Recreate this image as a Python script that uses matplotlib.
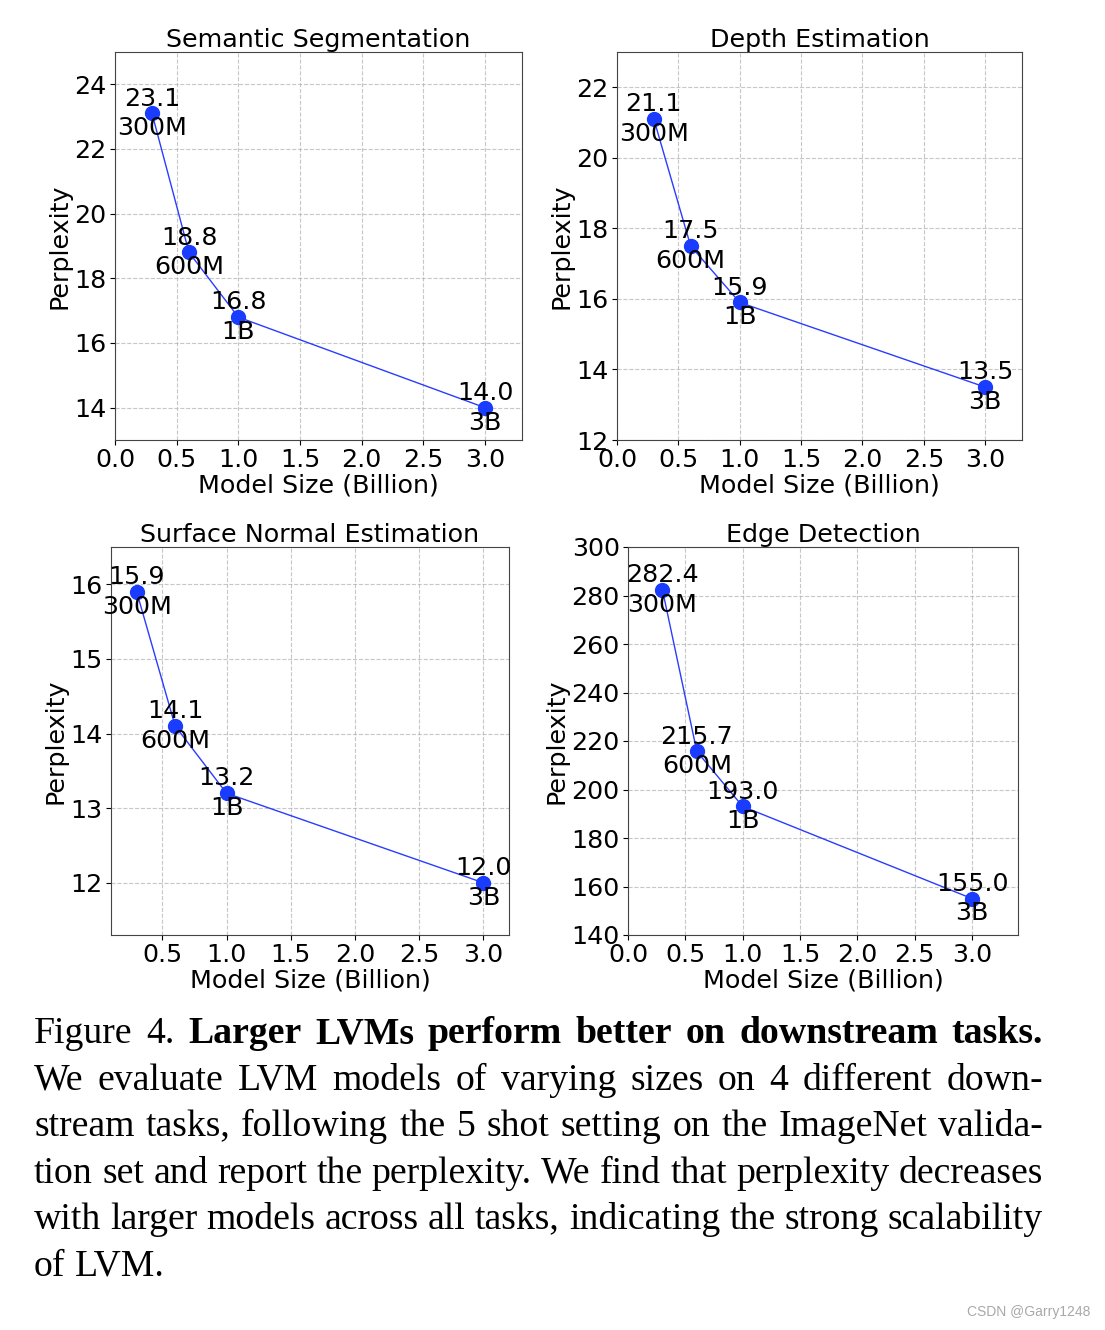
import matplotlib
matplotlib.use("Agg")
import matplotlib.pyplot as plt

# model sizes (billion) and their names
sizes = [0.3, 0.6, 1.0, 3.0]
size_labels = ['300M', '600M', '1B', '3B']

# perplexity per task
seg = [23.1, 18.8, 16.8, 14.0]
depth = [21.1, 17.5, 15.9, 13.5]
normal = [15.9, 14.1, 13.2, 12.0]
edge = [282.4, 215.7, 193.0, 155.0]

titles = ['Semantic Segmentation', 'Depth Estimation', 'Surface Normal Estimation', 'Edge Detection']

caption_lines = [
    [("Figure 4.", "normal"), ("Larger LVMs perform better on downstream tasks.", "bold")],
    [("We evaluate LVM models of varying sizes on 4 different down-", "normal")],
    [("stream tasks, following the 5 shot setting on the ImageNet valida-", "normal")],
    [("tion set and report the perplexity. We find that perplexity decreases", "normal")],
    [("with larger models across all tasks, indicating the strong scalability", "normal")],
    [("of LVM.", "normal")],
]

W, H = 1105, 1330
fig = plt.figure(figsize=(W / 100, H / 100), dpi=100)

# axes boxes in pixels: left, top, right, bottom
boxes = [(115, 52, 522, 440), (617, 52, 1022, 440),
         (111, 547, 509, 935), (628, 547, 1018, 935)]
xlims = [(0, 3.3), (0, 3.3), (0.1, 3.2), (0, 3.4)]
ylims = [(13, 25), (12, 23), (11.3, 16.5), (140, 300)]
yticks = [range(14, 25, 2), range(12, 23, 2), range(12, 17), range(140, 301, 20)]
series = [seg, depth, normal, edge]

fs = 18.3
for i in range(4):
    l, t, r, b = boxes[i]
    ax = fig.add_axes([l / W, 1 - b / H, (r - l) / W, (b - t) / H])
    ax.plot(sizes, series[i], color='#2a3cff', lw=1, marker='o', ms=10,
            markerfacecolor='#1a3cff', markeredgecolor='#1a3cff')
    for x, y, name in zip(sizes, series[i], size_labels):
        ax.text(x, y, f"{y:.1f}\n{name}", ha='center', va='center', fontsize=fs,
                linespacing=1.3)
    ax.set_ylim(*ylims[i])
    ax.set_yticks(list(yticks[i]))
    ax.set_xticks([v / 2 for v in range(0, 7)])
    ax.set_xlim(*xlims[i])
    ax.set_title(titles[i], fontsize=fs, pad=3)
    ax.set_xlabel('Model Size (Billion)', fontsize=fs, labelpad=1)
    ax.set_ylabel('Perplexity', fontsize=fs, labelpad=2)
    ax.tick_params(labelsize=fs, pad=2.5)
    ax.grid(True, linestyle='--', color='#b0b0b0', alpha=0.7, lw=0.8)
    for s in ax.spines.values():
        s.set_color('#444444')

# caption, justified by placing words one by one
cap_fs = 27.2
left, right = 34, 1043
base0, step = 1043, 46.6
renderer = fig.canvas.get_renderer()
serif = 'Liberation Serif'
for n, parts in enumerate(caption_lines):
    words = []
    for txt, weight in parts:
        for w in txt.split(' '):
            words.append((w, weight))
    arts = []
    total = 0
    for w, weight in words:
        a = fig.text(0, 0, w, fontsize=cap_fs, family=serif, weight=weight,
                     va='baseline', ha='left')
        wd = a.get_window_extent(renderer).width
        arts.append((a, wd))
        total += wd
    if n == len(caption_lines) - 1:
        gap = 9
    else:
        gap = (right - left - total) / (len(words) - 1)
    x = left
    y = 1 - (base0 + n * step) / H
    for a, wd in arts:
        a.set_position((x / W, y))
        x += wd + gap

fig.text(1090 / W, 1 - 1312 / H, 'CSDN @Garry1248', fontsize=10, color='#a8a8a8',
         family='Liberation Sans', ha='right', va='center')

fig.savefig('out.png', dpi=100)
